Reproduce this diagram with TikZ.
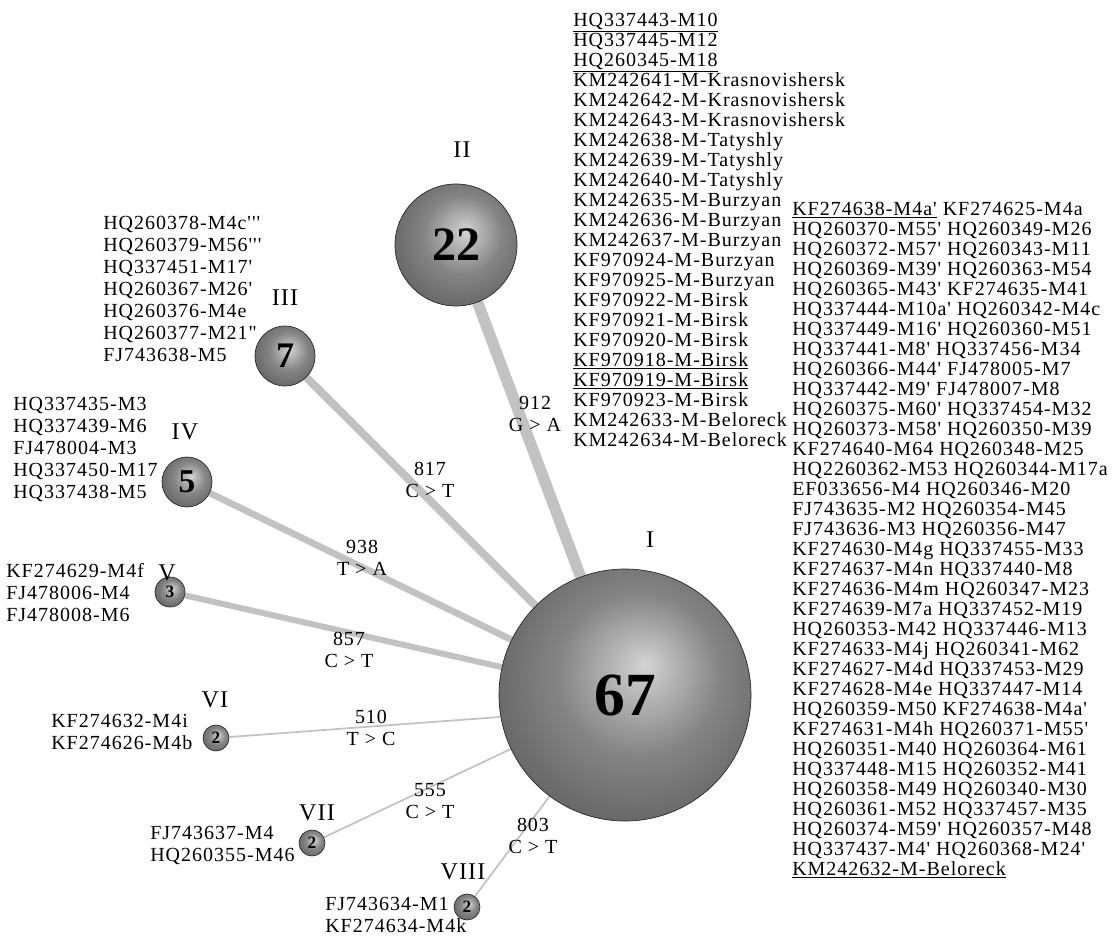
\documentclass[tikz,border=0pt]{standalone}
\usepackage{fontspec}
\usetikzlibrary{backgrounds}
\newfontfamily\hapfont{Liberation Serif}[LetterSpace=5]
\newfontfamily\numfont{Liberation Serif}
\pgfdeclareradialshading{hapball}{\pgfpoint{4bp}{6bp}}{color(0bp)=(black!17); color(6bp)=(black!29); color(16bp)=(black!48); color(28bp)=(black!59); color(50bp)=(black!62)}
\tikzset{
    hap/.style={circle, draw=black!85, line width=0.5pt, inner sep=0pt, shading=hapball, minimum size=#1},
    link/.style={draw=black!24, line width=#1},
    seq/.style={anchor=north west, align=left, inner sep=0pt, font=\hapfont\fontsize{15}{#1}\selectfont},
    mut/.style={align=center, inner sep=0pt, font=\hapfont\fontsize{15}{17}\selectfont},
    grp/.style={inner sep=0pt, font=\hapfont\fontsize{18}{20}\selectfont},
    cnt/.style={font=\numfont\bfseries\fontsize{#1}{#1}\selectfont}
}

\begin{document}
\begin{tikzpicture}[x=0.75pt, y=-0.75pt]
            \useasboundingbox (0,0) rectangle (1114,938);

            \node[hap=189pt, cnt=46] (i) at (625,695) {67};
            \node[hap=91.5pt, cnt=36] (ii) at (456,245) {22};
            \node[hap=45pt, cnt=27] (iii) at (285,356) {7};
            \node[hap=37.5pt, cnt=25] (iv) at (187,482) {5};
            \node[hap=22.5pt, cnt=13] (v) at (170,592) {3};
            \node[hap=19.5pt, cnt=13] (vi) at (216,738) {2};
            \node[hap=19.5pt, cnt=13] (vii) at (312,843) {2};
            \node[hap=19.5pt, cnt=13] (viii) at (467,907) {2};

            \begin{pgfonlayer}{background}
                \draw[link=8.5pt] (ii) -- (i);
                \draw[link=6pt] (iii) -- (i);
                \draw[link=5pt] (iv) -- (i);
                \draw[link=4.5pt] (v) -- (i);
                \draw[link=1.3pt] (vi) -- (i.190);
                \draw[link=1.3pt] (vii) -- (i);
                \draw[link=1.3pt] (viii) -- (i);
            \end{pgfonlayer}

            \node[grp] (gi) at (650,540) {I};
            \node[grp] (gii) at (462,150) {II};
            \node[grp] (giii) at (285,298) {III};
            \node[grp] (giv) at (185,432) {IV};
            \node[grp] (gv) at (167,573) {V};
            \node[grp] (gvi) at (215,700) {VI};
            \node[grp] (gvii) at (317,813) {VII};
            \node[grp] (gviii) at (463,872) {VIII};

            \node[mut] (mii) at (535,414) {912\\G > A};
            \node[mut] (miii) at (430,480) {817\\C > T};
            \node[mut] (miv) at (362,558) {938\\T > A};
            \node[mut] (mv) at (349,650) {857\\C > T};
            \node[mut] (mvi) at (371,728) {510\\T > C};
            \node[mut] (mvii) at (430,801) {555\\C > T};
            \node[mut] (mviii) at (533,836) {803\\C > T};

            \node[seq=15] (lii) at (573,13) {\underline{HQ337443-M10}\\HQ337445-M12\\\underline{HQ260345-M18}\\
                KM242641-M-Krasnovishersk\\KM242642-M-Krasnovishersk\\KM242643-M-Krasnovishersk\\
                KM242638-M-Tatyshly\\KM242639-M-Tatyshly\\KM242640-M-Tatyshly\\
                KM242635-M-Burzyan\\KM242636-M-Burzyan\\KM242637-M-Burzyan\\
                KF970924-M-Burzyan\\KF970925-M-Burzyan\\KF970922-M-Birsk\\KF970921-M-Birsk\\
                KF970920-M-Birsk\\\underline{KF970918-M-Birsk}\\\underline{KF970919-M-Birsk}\\
                KF970923-M-Birsk\\KM242633-M-Beloreck\\KM242634-M-Beloreck};

            \node[seq=15] (li) at (792,202) {\underline{KF274638-M4a'} KF274625-M4a\\
                HQ260370-M55' HQ260349-M26\\HQ260372-M57' HQ260343-M11\\
                HQ260369-M39' HQ260363-M54\\HQ260365-M43' KF274635-M41\\
                HQ337444-M10a' HQ260342-M4c\\HQ337449-M16' HQ260360-M51\\
                HQ337441-M8' HQ337456-M34\\HQ260366-M44' FJ478005-M7\\
                HQ337442-M9' FJ478007-M8\\HQ260375-M60' HQ337454-M32\\
                HQ260373-M58' HQ260350-M39\\KF274640-M64 HQ260348-M25\\
                HQ2260362-M53 HQ260344-M17a\\EF033656-M4 HQ260346-M20\\
                FJ743635-M2 HQ260354-M45\\FJ743636-M3 HQ260356-M47\\
                KF274630-M4g HQ337455-M33\\KF274637-M4n HQ337440-M8\\
                KF274636-M4m HQ260347-M23\\KF274639-M7a HQ337452-M19\\
                HQ260353-M42 HQ337446-M13\\KF274633-M4j HQ260341-M62\\
                KF274627-M4d HQ337453-M29\\KF274628-M4e HQ337447-M14\\
                HQ260359-M50 KF274638-M4a'\\KF274631-M4h HQ260371-M55'\\
                HQ260351-M40 HQ260364-M61\\HQ337448-M15 HQ260352-M41\\
                HQ260358-M49 HQ260340-M30\\HQ260361-M52 HQ337457-M35\\
                HQ260374-M59' HQ260357-M48\\HQ337437-M4' HQ260368-M24'\\
                \underline{KM242632-M-Beloreck}};

            \node[seq=16.5] (liii) at (103,216) {HQ260378-M4c'''\\HQ260379-M56'''\\HQ337451-M17'\\
                HQ260367-M26'\\HQ260376-M4e\\HQ260377-M21"\\FJ743638-M5};
            \node[seq=16.5] (liv) at (13,397) {HQ337435-M3\\HQ337439-M6\\FJ478004-M3\\HQ337450-M17\\HQ337438-M5};
            \node[seq=16.5] (lv) at (6,563) {KF274629-M4f\\FJ478006-M4\\FJ478008-M6};
            \node[seq=16.5] (lvi) at (51,714) {KF274632-M4i\\KF274626-M4b};
            \node[seq=16.5] (lvii) at (150,826) {FJ743637-M4\\HQ260355-M46};
            \node[seq=16.5] (lviii) at (325,897) {FJ743634-M1\\KF274634-M4k};
\end{tikzpicture}
\end{document}
